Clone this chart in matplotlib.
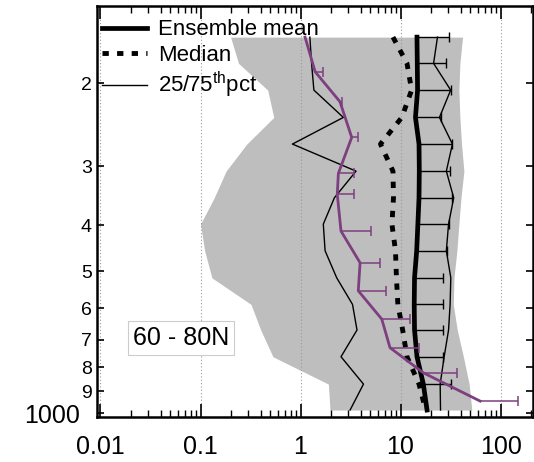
import numpy as np
import matplotlib.pyplot as plt
from matplotlib.ticker import FixedLocator, NullLocator, LogLocator, NullFormatter

plt.rcParams['font.family'] = ['Liberation Sans', 'DejaVu Sans']
plt.rcParams['mathtext.fontset'] = 'custom'
plt.rcParams['mathtext.rm'] = 'Liberation Sans'
plt.rcParams['mathtext.it'] = 'Liberation Sans:italic'

# ensemble statistics on model levels (hPa)
lev = np.array([159.6, 181.4, 206.7, 236.2, 269.0, 307.0, 349.7, 397.6,
                452.8, 516.8, 588.4, 666.8, 759.7, 868.2, 985.4])
ens_mean = np.array([14.6, 14.7, 14.8, 14.1, 15.3, 15.4, 15.3, 14.9,
                     14.5, 13.8, 13.7, 13.8, 14.6, 16.9, 18.4])
ens_std = np.array([15.9, 14.0, 16.9, 11.3, 17.7, 15.5, 17.3, 15.3,
                    14.9, 13.0, 12.7, 12.6, 12.2, 14.7, np.nan])
ens_median = np.array([8.4, 11.6, 12.9, 10.3, 6.3, 8.4, 8.5, 8.2,
                       8.9, 9.1, 9.4, 10.5, 11.6, 15.3, 17.8])
pct25 = np.array([1.24, 1.29, 1.36, 2.68, 0.83, 3.59, 2.18, 1.69,
                  1.76, 2.30, 3.31, 3.67, 2.54, 4.26, 3.13])
pct75 = np.array([23.4, 21.4, 31.7, 24.5, 33.0, 28.7, 34.0, 30.2,
                  28.7, 31.8, 31.3, 30.2, 27.3, 24.9, 25.1])
ens_min = np.array([0.20, 0.24, 0.47, 0.54, 0.29, 0.18, 0.137, 0.10,
                    0.11, 0.13, 0.32, 0.40, 0.53, 1.9, 1.97])
ens_max = np.array([41.7, 39.2, 38.3, 39.2, 40.7, 43.0, 40.2, 38.3,
                    36.6, 34.2, 33.7, 36.9, 42.5, 48.5, 51.6])

# observed profile
obs_lev = np.array([159.6, 189.0, 218.8, 260.4, 310.4, 343.9, 411.4,
                    480.2, 550.6, 632.2, 727.0, 821.6, 943.2])
obs_mean = np.array([1.11, 1.40, 2.48, 3.25, 2.39, 2.33, 2.54,
                     3.94, 3.78, 6.49, 7.85, 16.9, 62.4])
obs_err = np.array([np.nan, 0.29, 0.09, 0.53, 1.04, 1.10, 2.50,
                    2.30, 3.38, 5.96, 7.55, 20.1, 86.2])

yticks = [200, 300, 400, 500, 600, 700, 800, 900, 1000]
ytick_labels = ['2', '3', '4', '5', '6', '7', '8', '9', '1000']
xticks = [0.01, 0.1, 1, 10, 100]
xtick_labels = ['0.01', '0.1', '1', '10', '100']

purple = '#7d3f7f'

fig = plt.figure(figsize=(5.34, 4.62), dpi=100)
ax = fig.add_axes([97 / 534, 45 / 462, 436 / 534, 411 / 462])
ax.set_xscale('log')
ax.set_yscale('log')

ax.fill_betweenx(lev, ens_min, ens_max, color='#bebebe', lw=0, zorder=1)

ax.plot(pct25, lev, color='k', lw=1.0, zorder=3, label='25/75$^{\\rm th}$pct')
ax.plot(pct75, lev, color='k', lw=1.0, zorder=3)
ax.plot(ens_median, lev, color='k', lw=3.5, dashes=(1.3, 1.7), zorder=3,
        label='Median')
ax.plot(ens_mean, lev, color='k', lw=3.4, zorder=4, label='Ensemble mean')

def one_sided(x, y, err, color, lw):
    m = ~np.isnan(err)
    _, caps, _ = ax.errorbar(x[m], y[m], xerr=[np.zeros(m.sum()), err[m]],
                             fmt='none', ecolor=color, elinewidth=lw,
                             capsize=3.9, capthick=lw, zorder=5)
    for c in caps:
        if np.allclose(c.get_xdata(), x[m]):
            c.set_visible(False)

one_sided(ens_mean, lev, ens_std, 'k', 1.0)
ax.plot(obs_mean, obs_lev, color=purple, lw=2.0, zorder=6)
one_sided(obs_mean, obs_lev, obs_err, purple, 1.1)

ax.set_xlim(0.00923, 211)
ax.set_ylim(1019.5, 137.1)

ax.xaxis.set_major_locator(FixedLocator(xticks))
ax.set_xticklabels(xtick_labels)
ax.xaxis.set_minor_locator(LogLocator(base=10, subs=np.arange(2, 10)))
ax.xaxis.set_minor_formatter(NullFormatter())
ax.yaxis.set_major_locator(FixedLocator(yticks))
ax.set_yticklabels(ytick_labels)
ax.yaxis.set_minor_locator(NullLocator())

ax.tick_params(which='both', direction='in', top=True, right=True)
ax.tick_params(axis='x', which='major', length=9.5, width=1.2,
               labelsize=18, pad=13)
ax.tick_params(axis='x', which='minor', length=5, width=1.0)
ax.tick_params(axis='y', which='major', length=5, width=1.2,
               labelsize=14, pad=3.8)
big = ax.yaxis.get_major_ticks()[-1]
big.label1.set_fontsize(18)
big.set_pad(12)

for s in ax.spines.values():
    s.set_linewidth(1.8)

ax.set_axisbelow('line')
ax.grid(axis='x', which='major', ls=(0, (1, 2)), color='#999999', lw=0.8)

h, l = ax.get_legend_handles_labels()
order = [2, 1, 0]
ax.legend([h[i] for i in order], [l[i] for i in order], loc='upper left',
          bbox_to_anchor=(-0.018, 1.0), borderaxespad=0.25, borderpad=0.35,
          fontsize=16, handlelength=2.0, handletextpad=0.5,
          labelspacing=0.2, frameon=False)

ax.text(0.193, 0.193, '60 - 80N', transform=ax.transAxes, fontsize=18,
        ha='center', va='center', zorder=7,
        bbox=dict(boxstyle='square,pad=0.2', fc='white', ec='#cccccc', lw=0.8))

fig.savefig('out.png', dpi=100)
